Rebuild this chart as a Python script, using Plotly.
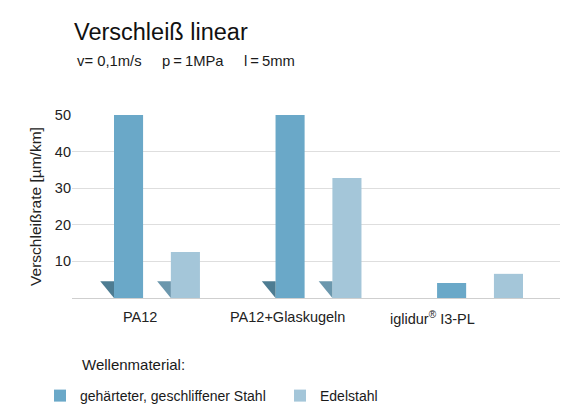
import plotly.graph_objects as go

categories = ["PA12", "PA12+Glaskugeln", "iglidur<sup>®</sup> I3-PL"]
series_names = ["gehärteter, geschliffener Stahl", "Edelstahl"]
stahl = [50, 50, 4.1]
edelstahl = [12.6, 32.8, 6.6]
has_break = [True, True, False]
y_ticks = [10, 20, 30, 40, 50]

colors = ["#6aa8c8", "#a4c6d9"]
tri_colors = ["#4d7c92", "#6b97ad"]
font = "Liberation Sans, Arial, sans-serif"

W, H = 580, 418
ML, MR, MT, MB = 72, 20, 115, 120
PW, PH = W - ML - MR, H - MT - MB


def px_x(px):
    return (px - ML) / PW


def px_y(py):
    return (H - MB - py) / PH


offsets = [-0.176, 0.176]
bar_w = 0.18
label_shift = [-0.105, -0.19, -0.297]
tri_w, tri_h = 0.085, 4.6

fig = go.Figure()
for s, (vals, name) in enumerate(zip([stahl, edelstahl], series_names)):
    xs = [i + offsets[s] for i in range(len(categories))]
    fig.add_trace(go.Bar(x=xs, y=vals, width=bar_w, name=name,
                         marker=dict(color=colors[s], line=dict(width=0)),
                         hoverinfo="y"))
    for i, x in enumerate(xs):
        if has_break[i]:
            left = x - bar_w / 2
            fig.add_trace(go.Scatter(
                x=[left - tri_w, left, left, left - tri_w],
                y=[tri_h, tri_h, 0, tri_h], mode="lines", fill="toself",
                fillcolor=tri_colors[s], line=dict(width=0),
                showlegend=False, hoverinfo="skip"))

annotations = []
for i, c in enumerate(categories):
    annotations.append(dict(x=i + label_shift[i], y=0, xref="x", yref="paper",
                            text=c, showarrow=False, yanchor="top", yshift=-9,
                            font=dict(size=14.5, color="#222")))

annotations += [
    dict(x=px_x(72), y=px_y(32), xref="paper", yref="paper",
         text="Verschleiß linear", showarrow=False, xanchor="left",
         yanchor="middle", font=dict(size=23.5, color="#111")),
    dict(x=px_x(75), y=px_y(61), xref="paper", yref="paper",
         text="v= 0,1m/s\u00a0\u00a0\u00a0\u00a0 p\u2009=\u20091MPa\u00a0\u00a0\u00a0\u00a0 l\u2009=\u20095mm",
         showarrow=False, xanchor="left", yanchor="middle",
         font=dict(size=14.8, color="#1a1a1a")),
    dict(x=px_x(80), y=px_y(364), xref="paper", yref="paper",
         text="Wellenmaterial:", showarrow=False, xanchor="left",
         yanchor="middle", font=dict(size=15, color="#1a1a1a")),
]

fig.update_layout(
    width=W, height=H,
    margin=dict(l=ML, r=MR, t=MT, b=MB),
    paper_bgcolor="white", plot_bgcolor="white",
    font=dict(family=font, color="#222"),
    barmode="overlay",
    showlegend=True,
    annotations=annotations,
    legend=dict(orientation="h", xref="container", yref="container",
                x=40 / W, y=1 - 396 / H, xanchor="left", yanchor="middle",
                font=dict(size=14, color="#1a1a1a"), entrywidth=195,
                itemwidth=30, bgcolor="rgba(0,0,0,0)", traceorder="normal"),
    xaxis=dict(range=[-0.526, 2.495], showticklabels=False, showgrid=False,
               zeroline=False, showline=True, linecolor="#cfcfcf", linewidth=1,
               fixedrange=True),
    yaxis=dict(range=[0, 50], tickvals=y_ticks, showgrid=True,
               gridcolor="#dedede", gridwidth=1, zeroline=False,
               tickfont=dict(size=14.5, color="#222"),
               title=dict(text="Verschleißrate [µm/km]", standoff=9,
                          font=dict(size=15.5, color="#222")),
               fixedrange=True),
)

fig.write_html("out.html")
